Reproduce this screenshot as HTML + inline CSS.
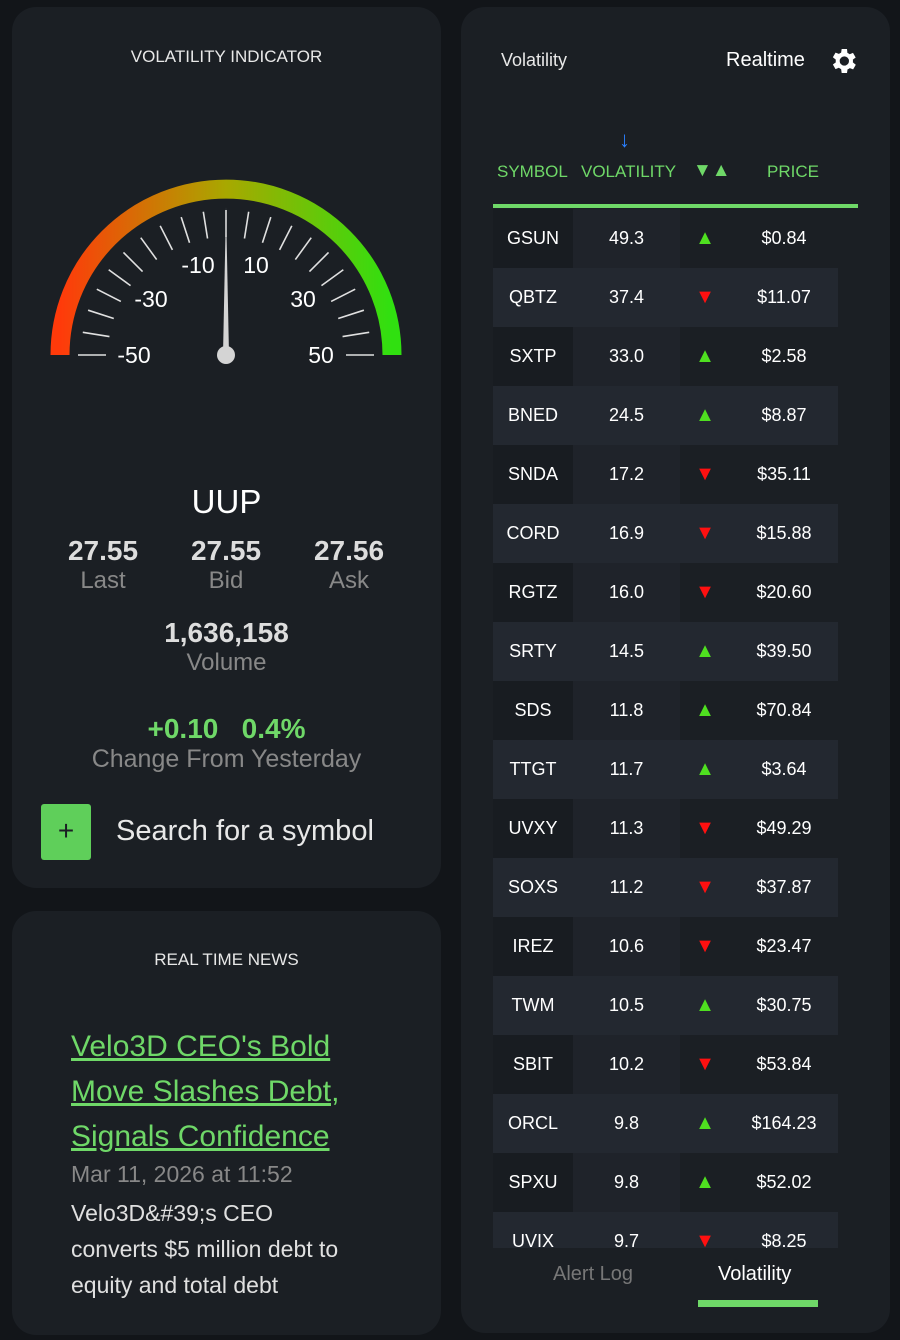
<!DOCTYPE html>
<html><head><meta charset="utf-8"><style>
*{margin:0;padding:0;box-sizing:border-box}
body{width:900px;height:1340px;background:#121519;font-family:"Liberation Sans",sans-serif;color:#fff;position:relative;overflow:hidden}
.panel{position:absolute;background:#1b1f24;border-radius:24px}
.abs{position:absolute}
.c{text-align:center}
</style></head><body>
<div class="panel" style="left:12px;top:7px;width:429px;height:881px">
  <div class="abs c" style="left:0;width:429px;top:40px;font-size:17px;color:#e8e8e8">VOLATILITY INDICATOR</div>
  <svg class="abs" style="left:0;top:0" width="429" height="400">
    <defs><linearGradient id="g" x1="0" x2="1" y1="0" y2="0"><stop offset="0" stop-color="#ff3a0a"/><stop offset="0.5" stop-color="#a8a800"/><stop offset="1" stop-color="#30e010"/></linearGradient></defs>
    <path d="M 48 348 A 166 166 0 0 1 380 348" fill="none" stroke="url(#g)" stroke-width="19"/>
    <g id="ticks" stroke="#e0e0e0" stroke-width="1.6"></g>
    <g font-size="23" fill="#fff" text-anchor="middle">
      <text x="122" y="356">-50</text>
      <text x="139" y="300">-30</text>
      <text x="186" y="266">-10</text>
      <text x="244" y="266">10</text>
      <text x="291" y="300">30</text>
      <text x="309" y="356">50</text>
    </g>
    <polygon points="211,348 214,200 217,348" fill="#d4d4d4"/>
    <circle cx="214" cy="348" r="9" fill="#d4d4d4"/>
  </svg>
  <div class="abs c" style="left:0;width:429px;top:476px;font-size:33px">UUP</div>
  <div class="abs c" style="left:31px;width:120px;top:528px;font-size:28px;font-weight:bold;color:#ddd">27.55</div>
  <div class="abs c" style="left:31px;width:120px;top:560px;font-size:24px;color:#888">Last</div>
  <div class="abs c" style="left:154px;width:120px;top:528px;font-size:28px;font-weight:bold;color:#ddd">27.55</div>
  <div class="abs c" style="left:154px;width:120px;top:560px;font-size:24px;color:#888">Bid</div>
  <div class="abs c" style="left:277px;width:120px;top:528px;font-size:28px;font-weight:bold;color:#ddd">27.56</div>
  <div class="abs c" style="left:277px;width:120px;top:560px;font-size:24px;color:#888">Ask</div>
  <div class="abs c" style="left:0;width:429px;top:610px;font-size:28px;font-weight:bold;color:#ddd">1,636,158</div>
  <div class="abs c" style="left:0;width:429px;top:642px;font-size:24px;color:#888">Volume</div>
  <div class="abs c" style="left:0;width:429px;top:706px;font-size:28px;font-weight:bold;color:#6fd868">+0.10&nbsp;&nbsp;&nbsp;0.4%</div>
  <div class="abs c" style="left:0;width:429px;top:738px;font-size:25px;color:#888">Change From Yesterday</div>
  <div class="abs c" style="left:29px;top:797px;width:50px;height:56px;background:#5fcf5a;border-radius:3px;font-size:28px;line-height:54px;color:#1b1f24">+</div>
  <div class="abs" style="left:104px;top:808px;font-size:29px;color:#e8e8e8">Search for a symbol</div>
</div>
<div class="panel" style="left:12px;top:911px;width:429px;height:424px">
  <div class="abs c" style="left:0;width:429px;top:39px;font-size:17px;color:#e8e8e8">REAL TIME NEWS</div>
  <div class="abs" style="left:59px;top:113px;width:300px;font-size:30px;line-height:45px;color:#6fd868;text-decoration:underline">Velo3D CEO's Bold Move Slashes Debt, Signals Confidence</div>
  <div class="abs" style="left:59px;top:250px;font-size:23px;color:#888">Mar 11, 2026 at 11:52</div>
  <div class="abs" style="left:59px;top:284px;width:285px;font-size:23px;line-height:36px;color:#e0e0e0">Velo3D&amp;#39;s CEO converts $5 million debt to equity and total debt</div>
</div>
<div class="panel" style="left:461px;top:7px;width:429px;height:1326px">
  <div class="abs" style="left:40px;top:43px;font-size:18px;color:#e8e8e8">Volatility</div>
  <div class="abs" style="left:265px;top:42px;font-size:20px;color:#fff">Realtime</div>
  <svg class="abs" style="left:366px;top:38px" width="32" height="32" viewBox="0 0 24 24"><path fill="#fff" d="M19.4 13a7.5 7.5 0 0 0 0-2l2.1-1.6-2-3.5-2.5 1a7 7 0 0 0-1.7-1L15 3h-4l-.4 2.7a7 7 0 0 0-1.7 1l-2.5-1-2 3.5L6.6 11a7.5 7.5 0 0 0 0 2l-2.2 1.6 2 3.5 2.5-1a7 7 0 0 0 1.7 1L11 21h4l.4-2.7a7 7 0 0 0 1.7-1l2.5 1 2-3.5zM13 15.5a3.5 3.5 0 1 1 0-7 3.5 3.5 0 0 1 0 7z"/></svg>
  <div class="abs" style="left:158px;top:120px;color:#2a7fff;font-size:22px">↓</div>
  <div class="abs" style="left:36px;top:155px;font-size:17px;color:#6fd868">SYMBOL</div>
  <div class="abs" style="left:120px;top:155px;font-size:17px;color:#6fd868">VOLATILITY</div>
  <div class="abs" style="left:232px;top:153px;font-size:19px;color:#6fd868">▼▲</div>
  <div class="abs" style="left:306px;top:155px;font-size:17px;color:#6fd868">PRICE</div>
  <div class="abs" style="left:32px;top:197px;width:365px;height:4px;background:#6fd868"></div>
  <div class="abs" id="tbl" style="left:32px;top:202px;width:345px;height:1039px;overflow:hidden"></div>
  <div class="abs" style="left:92px;top:1256px;font-size:20px;color:#777">Alert Log</div>
  <div class="abs" style="left:257px;top:1256px;font-size:20px;color:#fff">Volatility</div>
  <div class="abs" style="left:237px;top:1293px;width:120px;height:7px;background:#6fd868"></div>
</div>
<script>
const symbols=["GSUN","QBTZ","SXTP","BNED","SNDA","CORD","RGTZ","SRTY","SDS","TTGT","UVXY","SOXS","IREZ","TWM","SBIT","ORCL","SPXU","UVIX"];
const vols=["49.3","37.4","33.0","24.5","17.2","16.9","16.0","14.5","11.8","11.7","11.3","11.2","10.6","10.5","10.2","9.8","9.8","9.7"];
const dirs=[1,-1,1,1,-1,-1,-1,1,1,1,-1,-1,-1,1,-1,1,1,-1];
const prices=["$0.84","$11.07","$2.58","$8.87","$35.11","$15.88","$20.60","$39.50","$70.84","$3.64","$49.29","$37.87","$23.47","$30.75","$53.84","$164.23","$52.02","$8.25"];
const tbl=document.getElementById('tbl');
symbols.forEach((s,i)=>{
  const r=document.createElement('div');
  
  
  const even=i%2===1;
  r.style.cssText='position:absolute;left:0;top:'+(i*59)+'px;width:345px;height:59px;font-size:18px;'+(even?'background:#232830;':'');
  const cell=(l,w,t,bg,col,nm,fs)=>{const d=document.createElement('div');
    
    
    d.style.cssText='position:absolute;left:'+l+'px;width:'+w+'px;top:0;height:59px;line-height:59px;text-align:center;color:'+col+';'+(fs?'font-size:'+fs+'px;':'')+(bg?'background:'+bg:'');d.textContent=t;r.appendChild(d);};
  cell(0,80,s,even?'':'#181c21','#fff','symbol-cell');
  cell(80,107,vols[i],even?'':'#1f232a','#fff','volatility-cell');
  cell(187,50,dirs[i]>0?'▲':'▼',null,dirs[i]>0?'#4fe020':'#ff1010','direction-cell',20);
  cell(237,108,prices[i],null,'#fff','price-cell');
  tbl.appendChild(r);
});
const tg=document.getElementById('ticks');
const cx=214,cy=348;
for(let k=0;k<=20;k++){
  const a=Math.PI*(1-k/20);
  let r1=118,r2=145;
  if(k===0||k===20){r1=120;r2=148;}
  const l=document.createElementNS('http://www.w3.org/2000/svg','line');
  
  
  l.setAttribute('x1',cx+r1*Math.cos(a));l.setAttribute('y1',cy-r1*Math.sin(a));
  l.setAttribute('x2',cx+r2*Math.cos(a));l.setAttribute('y2',cy-r2*Math.sin(a));
  tg.appendChild(l);
}
</script>
</body></html>
